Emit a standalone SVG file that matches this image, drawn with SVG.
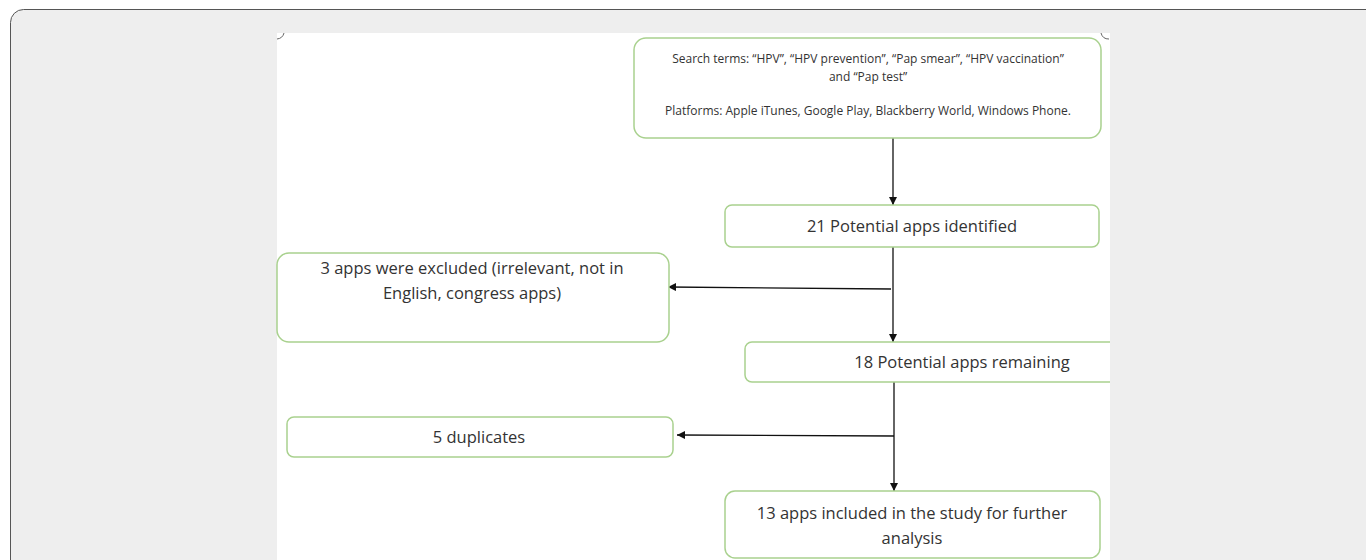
<svg xmlns="http://www.w3.org/2000/svg" width="1366" height="560" viewBox="0 0 1366 560">
<style>
.node rect{fill:#ffffff;stroke:#a9d18e;stroke-width:1.5}
text{font-family:"Open Sans","Liberation Sans",Arial,sans-serif;fill:#333333;text-anchor:middle}
.t{font-size:16.5px}
.s{font-size:12px}
.conn{stroke:#111111;stroke-width:1.3;fill:none;marker-end:url(#ah)}
</style>
<defs>
<marker id="ah" viewBox="0 0 10 10" refX="10" refY="5" markerWidth="8" markerHeight="8" markerUnits="userSpaceOnUse" orient="auto">
<path d="M0,0 L10,5 L0,10 z" fill="#111111"/>
</marker>
</defs>
<rect x="0" y="0" width="1366" height="560" fill="#ffffff"/>
<rect x="10.5" y="9.5" width="1380" height="600" rx="13" fill="#eeeeee" stroke="#555555" stroke-width="1"/>
<rect x="277" y="33" width="833" height="530" fill="#ffffff"/>
<path d="M277,39 A8,8 0 0 0 284,33" fill="none" stroke="#666666" stroke-width="1"/>
<path d="M1101,33 A8,8 0 0 0 1109,39" fill="none" stroke="#666666" stroke-width="1"/>
<g id="connectors">
<line class="conn" x1="893" y1="138" x2="893" y2="205"/>
<line class="conn" x1="893" y1="247" x2="893" y2="342"/>
<line class="conn" x1="891" y1="289" x2="668" y2="287"/>
<line class="conn" x1="894" y1="382" x2="894" y2="491"/>
<line class="conn" x1="894" y1="436" x2="677" y2="435"/>
</g>
<g id="n1" class="node">
<rect x="634" y="38" width="467" height="100" rx="12"/>
<text class="s" x="868" y="63">Search terms:  “HPV”, “HPV prevention”, “Pap smear”, “HPV vaccination”</text>
<text class="s" x="868" y="81">and “Pap test”</text>
<text class="s" x="868" y="115">Platforms: Apple iTunes, Google Play, Blackberry World, Windows Phone.</text>
</g>
<g id="n2" class="node">
<rect x="725" y="205" width="374" height="42" rx="7"/>
<text class="t" x="912" y="232">21 Potential apps identified</text>
</g>
<g id="n3" class="node">
<rect x="277" y="253" width="392" height="89" rx="12"/>
<text class="t" x="472" y="274">3 apps were excluded (irrelevant, not in</text>
<text class="t" x="472" y="299">English, congress apps)</text>
</g>
<g id="n4" class="node">
<rect x="745" y="342" width="380" height="40" rx="7"/>
<text class="t" x="962" y="368">18 Potential apps remaining</text>
</g>
<g id="n5" class="node">
<rect x="287" y="417" width="386" height="40" rx="7"/>
<text class="t" x="479" y="443">5 duplicates</text>
</g>
<g id="n6" class="node">
<rect x="725" y="491" width="375" height="67" rx="10"/>
<text class="t" x="912" y="519">13 apps included in the study for further</text>
<text class="t" x="912" y="544">analysis</text>
</g>
<rect x="1110" y="33" width="256" height="527" fill="#eeeeee"/>
<line x1="1110" y1="9.5" x2="1366" y2="9.5" stroke="#555555" stroke-width="1"/>
</svg>
